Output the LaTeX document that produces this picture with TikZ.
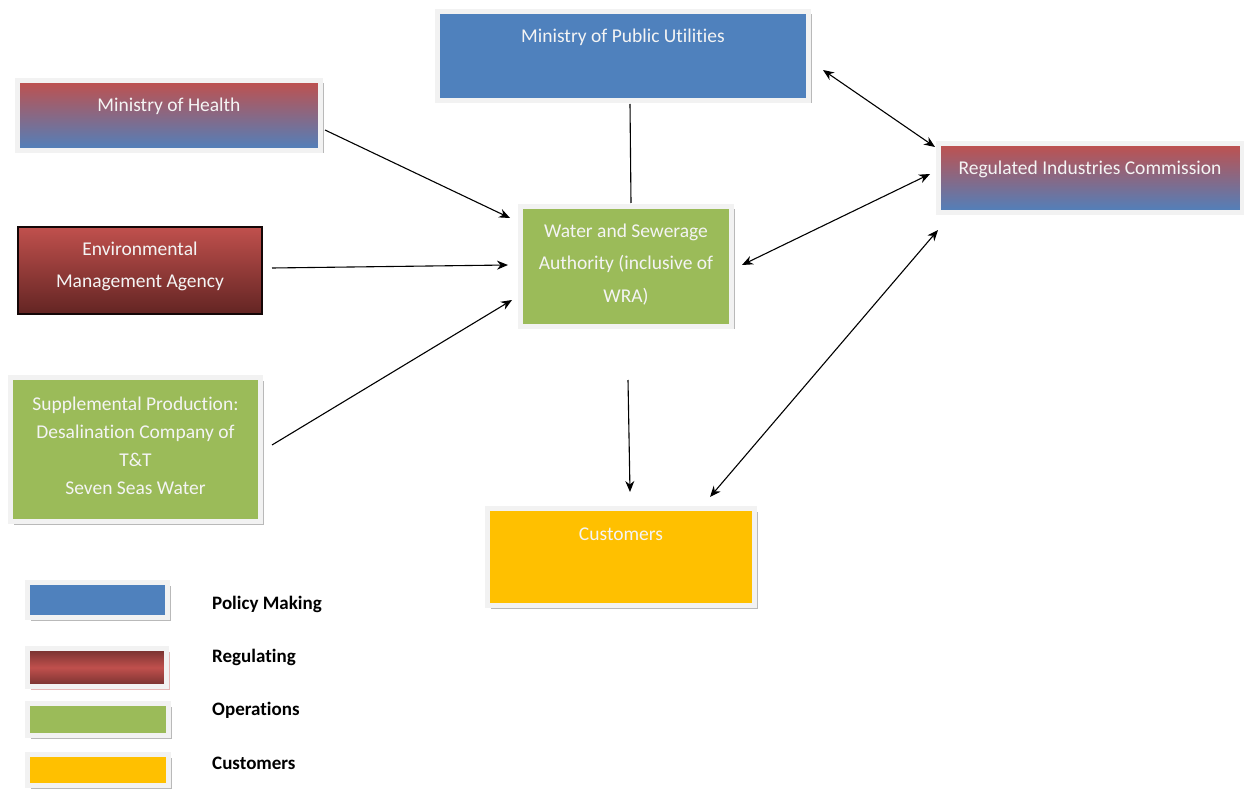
\documentclass[tikz,border=0pt]{standalone}
\usepackage{fontspec}
\setmainfont[Ligatures=NoCommon]{Carlito}
\usetikzlibrary{arrows.meta,shadows}
\definecolor{cblue}{HTML}{4F81BD}
\definecolor{cred}{HTML}{C0504D}
\definecolor{cdred}{HTML}{632523}
\definecolor{cgreen}{HTML}{9BBB59}
\definecolor{cyellow}{HTML}{FFC000}
\definecolor{cframe}{HTML}{F2F2F2}
\definecolor{ctext}{HTML}{F4F4F4}
\tikzset{
  box/.style={draw=cframe, line width=5pt, inner sep=0pt,
    drop shadow={shadow xshift=3pt, shadow yshift=-3pt, fill=gray!55, opacity=1}},
  txt/.style={text=ctext, align=center, inner sep=0pt, font=\fontsize{19.5}{32.5}\selectfont},
  leg/.style={anchor=west, inner sep=0pt, font=\fontsize{19}{22}\selectfont\bfseries},
  arr/.style={line width=1.1pt, -{Stealth[length=11pt,width=9pt]}},
  darr/.style={line width=1.1pt, {Stealth[length=11pt,width=9pt]}-{Stealth[length=11pt,width=9pt]}},
  ln/.style={line width=1.1pt}
}
\begin{document}
\begin{tikzpicture}[x=1pt,y=-1pt]
\useasboundingbox (0,0) rectangle (1244,791);
% boxes
\node[box, fill=cblue, minimum width=371pt, minimum height=89pt] (mpu) at (623,56) {};
\node[box, top color=cred, bottom color=cblue, minimum width=303pt, minimum height=70pt] (moh) at (169,115.5) {};
\node[draw=black!80!cdred, line width=1.2pt, top color=cred, bottom color=cdred, minimum width=244pt, minimum height=87pt, inner sep=0pt] (ema) at (140,270.5) {};
\node[box, fill=cgreen, minimum width=250pt, minimum height=144pt] (sup) at (135.5,449.5) {};
\node[box, fill=cgreen, minimum width=211pt, minimum height=120pt] (wsa) at (626,266.5) {};
\node[box, top color=cred, bottom color=cblue, minimum width=304pt, minimum height=69pt] (ric) at (1090.5,178) {};
\node[box, fill=cyellow, minimum width=267pt, minimum height=97pt] (cus) at (621,557) {};
% texts
\node[txt] (mput) at (623,37) {Ministry of Public Utilities};
\node[txt] (moht) at (169,106) {Ministry of Health};
\node[txt] (emat) at (140,266.5) {Environmental\\Management Agency};
\node[txt, font=\fontsize{19.5}{28}\selectfont] (supt) at (135.5,446) {Supplemental Production:\\Desalination Company of\\T\&T\\Seven Seas Water};
\node[txt] (wsat) at (626,264.5) {Water and Sewerage\\Authority (inclusive of\\WRA)};
\node[txt] (rict) at (1090,169) {Regulated Industries Commission};
\node[txt] (cust) at (621,534) {Customers};
% legend
\node[box, fill=cblue, minimum width=140pt, minimum height=35pt] (l1) at (97.5,600) {};
\node[box, top color=cred!60!black, bottom color=cred!60!black, middle color=cred, minimum width=139pt, minimum height=38pt,
  drop shadow={shadow xshift=3pt, shadow yshift=-3pt, fill=cred!40, opacity=1}] (l2) at (97,667.5) {};
\node[box, fill=cgreen, minimum width=141pt, minimum height=32pt] (l3) at (98,719.5) {};
\node[box, fill=cyellow, minimum width=141pt, minimum height=31pt] (l4) at (98,770) {};
\node[leg] (t1) at (212,604) {Policy Making};
\node[leg] (t2) at (212,657) {Regulating};
\node[leg] (t3) at (212,710) {Operations};
\node[leg] (t4) at (212,763) {Customers};
% connector ends
\coordinate (a1s) at (325,130); \coordinate (a1e) at (510,218);
\coordinate (a2s) at (272,268); \coordinate (a2e) at (508,265);
\coordinate (a3s) at (272,445); \coordinate (a3e) at (512,300);
\coordinate (ls) at (630,104); \coordinate (le) at (631,203);
\coordinate (a4s) at (628,380); \coordinate (a4e) at (630,492);
\coordinate (d1s) at (823,70); \coordinate (d1e) at (935,147);
\coordinate (d2s) at (930,174); \coordinate (d2e) at (742,265);
\coordinate (d3s) at (938,230); \coordinate (d3e) at (710,497);
\draw[arr] (a1s) -- (a1e);
\draw[arr] (a2s) -- (a2e);
\draw[arr] (a3s) -- (a3e);
\draw[ln] (ls) -- (le);
\draw[arr] (a4s) -- (a4e);
\draw[darr] (d1s) -- (d1e);
\draw[darr] (d2s) -- (d2e);
\draw[darr] (d3s) -- (d3e);
\end{tikzpicture}
\end{document}
